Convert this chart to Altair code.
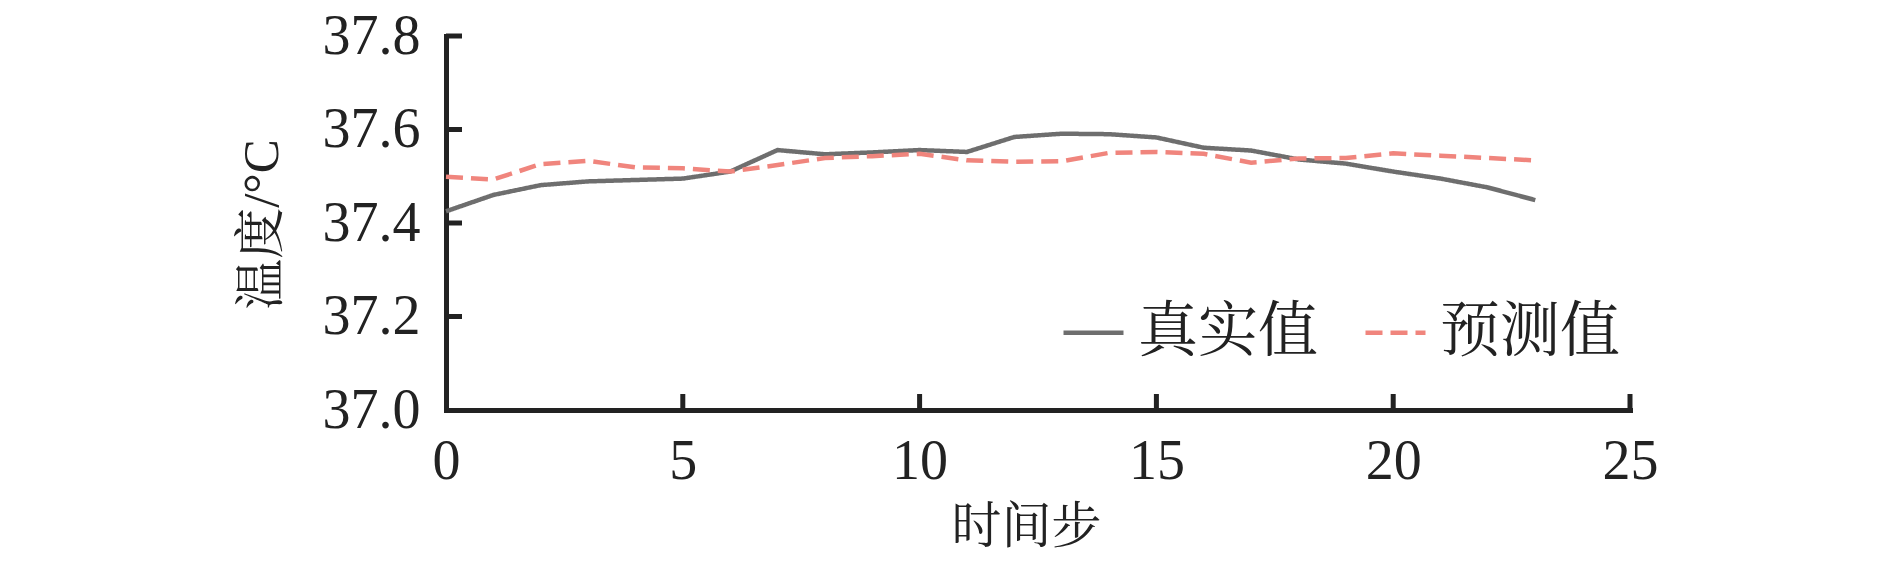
import altair as alt
import pandas as pd

steps = list(range(24))
real_values = [37.425, 37.460, 37.481, 37.489, 37.492, 37.495, 37.510, 37.556,
               37.547, 37.551, 37.556, 37.552, 37.584, 37.591, 37.590, 37.583,
               37.561, 37.555, 37.536, 37.527, 37.510, 37.495, 37.476, 37.449]
pred_values = [37.499, 37.493, 37.526, 37.533, 37.519, 37.517, 37.510, 37.524,
               37.539, 37.543, 37.548, 37.534, 37.531, 37.532, 37.550, 37.552,
               37.548, 37.529, 37.538, 37.539, 37.549, 37.544, 37.539, 37.534]
series_names = ["真实值", "预测值"]
x_ticks = [0, 5, 10, 15, 20, 25]
y_ticks = [37.0, 37.2, 37.4, 37.6, 37.8]

df = pd.DataFrame({
    "step": steps + steps,
    "value": real_values + pred_values,
    "series": [series_names[0]] * len(steps) + [series_names[1]] * len(steps),
})
xt_df = pd.DataFrame({"step": x_ticks[1:]})
yt_df = pd.DataFrame({"value": y_ticks[1:]})

W, H = 1184, 374
FONT = "Liberation Serif, Noto Serif CJK SC, Noto Sans CJK SC"
INK = "#222222"
GRAY = "#6E6E6E"
RED = "#F0857D"

xscale = alt.Scale(domain=[0, 25], nice=False, zero=False)
yscale = alt.Scale(domain=[37.0, 37.8], nice=False, zero=False)

xaxis = alt.Axis(
    values=x_ticks, title="时间步", grid=False, ticks=False, tickSize=0,
    domainColor=INK, domainWidth=5, domainCap="square",
    labelFont=FONT, labelFontSize=56, labelColor=INK, labelPadding=24,
    labelFlush=False,
    titleFont=FONT, titleFontSize=50, titleFontWeight="normal", titleColor=INK,
    titleX=580, titleY=117, titleBaseline="middle", titleAlign="center",
)
yaxis = alt.Axis(
    values=y_ticks, format=".1f", title="温度/°C", grid=False, ticks=False,
    tickSize=0, domainColor=INK, domainWidth=5, domainCap="square",
    labelFont=FONT, labelFontSize=56, labelColor=INK, labelPadding=26,
    labelFlush=False,
    titleFont=FONT, titleFontSize=51, titleFontWeight="normal", titleColor=INK,
    titleX=-184, titleY=188, titleBaseline="middle", titleAlign="center",
    titleAngle=270,
)

legend_cfg = dict(
    orient="none", legendX=615, legendY=264, direction="horizontal",
    title=None, symbolType="stroke", symbolSize=3600, symbolStrokeWidth=4.5,
    labelFontSize=60, labelFont=FONT, labelColor=INK, labelOffset=12,
    labelLimit=0, columnPadding=38, padding=0,
)

lines = alt.Chart(df).mark_line(strokeWidth=4.5).encode(
    x=alt.X("step:Q", scale=xscale, axis=xaxis),
    y=alt.Y("value:Q", scale=yscale, axis=yaxis),
    color=alt.Color("series:N", scale=alt.Scale(domain=series_names, range=[GRAY, RED]),
                    legend=alt.Legend(**legend_cfg)),
    strokeDash=alt.StrokeDash("series:N",
                              scale=alt.Scale(domain=series_names, range=[[1, 0], [17, 8]]),
                              legend=alt.Legend(**legend_cfg)),
)

yticks = alt.Chart(yt_df).mark_tick(orient="horizontal", size=16, thickness=5,
                                     color=INK, opacity=1).encode(
    y=alt.Y("value:Q", scale=yscale, axis=yaxis),
    x=alt.value(8),
)
xticks = alt.Chart(xt_df).mark_tick(orient="vertical", size=16, thickness=5,
                                     color=INK, opacity=1).encode(
    x=alt.X("step:Q", scale=xscale, axis=xaxis),
    y=alt.value(H - 8),
)

chart = alt.layer(lines, yticks, xticks).properties(
    width=W, height=H,
    autosize=alt.AutoSizeParams(type="none"),
    padding={"left": 438, "top": 28, "right": 240, "bottom": 150},
    background="white",
).configure_view(stroke=None)

chart.save("out.html", embed_options={"renderer": "svg", "actions": False})
